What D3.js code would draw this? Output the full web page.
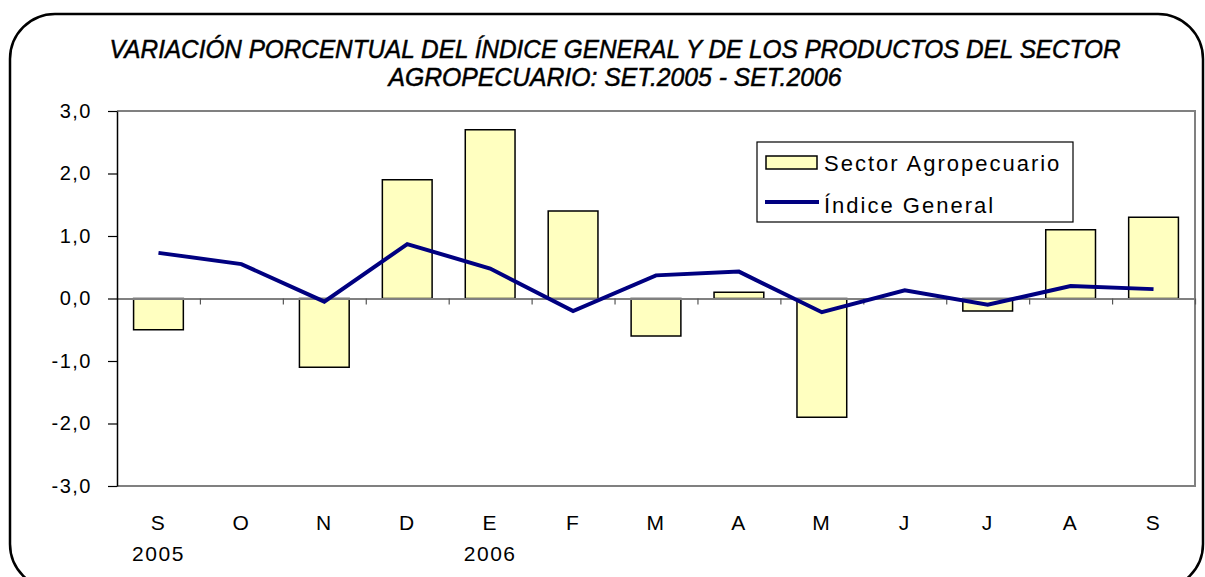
<!DOCTYPE html>
<html>
<head>
<meta charset="utf-8">
<script src="https://cdn.jsdelivr.net/npm/d3@7"></script>
<style>
  body { margin: 0; background: #fff; }
  text { font-family: "Liberation Sans", Arial, sans-serif; }
</style>
</head>
<body>
<script>
// months Sep 2005 - Sep 2006
var months = ["S", "O", "N", "D", "E", "F", "M", "A", "M", "J", "J", "A", "S"];
var years = ["2005", "", "", "", "2006", "", "", "", "", "", "", "", ""];
var agro = [-0.5, 0.0, -1.1, 1.9, 2.7, 1.4, -0.6, 0.1, -1.9, 0.0, -0.2, 1.1, 1.3];
var general = [0.73, 0.55, -0.05, 0.87, 0.48, -0.2, 0.37, 0.43, -0.22, 0.13, -0.1, 0.2, 0.15];
var yTicks = [-3, -2, -1, 0, 1, 2, 3];
var titleLines = [
  "VARIACIÓN PORCENTUAL DEL ÍNDICE GENERAL Y DE LOS PRODUCTOS DEL SECTOR",
  "AGROPECUARIO: SET.2005 - SET.2006"
];

var W = 1205, H = 577;
var plot = { left: 117, right: 1195, top: 111, bottom: 486 };

var svg = d3.select("body").append("svg")
  .attr("width", W)
  .attr("height", H);

// rounded chart area border
svg.append("rect")
  .attr("x", 10).attr("y", 14)
  .attr("width", 1193).attr("height", 575)
  .attr("rx", 45).attr("ry", 45)
  .attr("fill", "#fff")
  .attr("stroke", "#000")
  .attr("stroke-width", 2.5);

// title
svg.selectAll(".title")
  .data(titleLines)
  .enter()
  .append("text")
  .attr("class", "title")
  .attr("x", 615)
  .attr("y", function (d, i) { return 58 + i * 28; })
  .attr("text-anchor", "middle")
  .attr("textLength", function (d, i) { return i === 0 ? 1011 : 453; })
  .attr("lengthAdjust", "spacingAndGlyphs")
  .style("font-family", "'Liberation Sans Narrow', 'Arial Narrow', 'Liberation Sans', sans-serif")
  .style("font-style", "italic")
  .style("font-size", "25px")
  .attr("stroke", "#000")
  .attr("stroke-width", 0.5)
  .text(function (d) { return d; });

// scales
var x = d3.scaleBand()
  .domain(d3.range(months.length))
  .range([plot.left, plot.right])
  .paddingInner(0.4)
  .paddingOuter(0.2);

var xEdge = d3.scaleLinear()
  .domain([0, months.length])
  .range([plot.left, plot.right]);

var y = d3.scaleLinear()
  .domain([-3, 3])
  .range([plot.bottom, plot.top]);

var fmt = d3.formatLocale({ decimal: ",", thousands: ".", grouping: [3], currency: ["", ""], minus: "-" }).format(".1f");

// plot frame (top, right, bottom in gray)
svg.append("path")
  .attr("d", "M" + plot.left + "," + plot.top + "H" + plot.right + "V" + plot.bottom + "H" + plot.left)
  .attr("fill", "none")
  .attr("stroke", "#808080")
  .attr("stroke-width", 2);

// bars (zero values have no bar)
var barData = agro.map(function (v, i) { return { i: i, v: v }; })
  .filter(function (d) { return d.v !== 0; });

svg.selectAll(".bar")
  .data(barData)
  .enter()
  .append("rect")
  .attr("class", "bar")
  .attr("x", function (d) { return x(d.i); })
  .attr("y", function (d) { return y(Math.max(0, d.v)); })
  .attr("width", x.bandwidth())
  .attr("height", function (d) { return Math.abs(y(d.v) - y(0)); })
  .attr("fill", "#FFFFC0")
  .attr("stroke", "#000")
  .attr("stroke-width", 1.5);

// zero line with category ticks
var xAxis = svg.append("g")
  .attr("transform", "translate(0," + y(0) + ")")
  .call(d3.axisBottom(xEdge).tickValues(d3.range(1, months.length + 1)).tickFormat("").tickSize(6).tickSizeOuter(0));
xAxis.select(".domain").attr("stroke", "#808080").attr("stroke-width", 2);
xAxis.selectAll(".tick line").attr("stroke", "#555").attr("stroke-width", 1.2);

// y axis
var yAxis = svg.append("g")
  .attr("transform", "translate(" + plot.left + ",0)")
  .call(d3.axisLeft(y).tickValues(yTicks).tickFormat(fmt).tickSize(9).tickSizeOuter(0).tickPadding(16));
yAxis.select(".domain").attr("stroke", "#000").attr("stroke-width", 1.5);
yAxis.selectAll(".tick line").attr("stroke", "#000").attr("stroke-width", 1.2);
yAxis.selectAll(".tick text")
  .style("font-size", "20px")
  .style("letter-spacing", "1.5px")
  .attr("fill", "#000");

// line
var line = d3.line()
  .x(function (d, i) { return x(i) + x.bandwidth() / 2; })
  .y(function (d) { return y(d); });

svg.append("path")
  .datum(general)
  .attr("d", line)
  .attr("fill", "none")
  .attr("stroke", "#000080")
  .attr("stroke-width", 4)
  .attr("stroke-linejoin", "miter");

// month labels
svg.selectAll(".month")
  .data(months)
  .enter()
  .append("text")
  .attr("class", "month")
  .attr("x", function (d, i) { return x(i) + x.bandwidth() / 2; })
  .attr("y", 530)
  .attr("text-anchor", "middle")
  .style("font-size", "21px")
  .style("letter-spacing", "1.5px")
  .text(function (d) { return d; });

svg.selectAll(".year")
  .data(years)
  .enter()
  .append("text")
  .attr("class", "year")
  .attr("x", function (d, i) { return x(i) + x.bandwidth() / 2; })
  .attr("y", 561)
  .attr("text-anchor", "middle")
  .style("font-size", "21px")
  .style("letter-spacing", "1.5px")
  .text(function (d) { return d; });

// legend
var legend = svg.append("g");
legend.append("rect")
  .attr("x", 757).attr("y", 142)
  .attr("width", 316).attr("height", 80)
  .attr("fill", "#fff")
  .attr("stroke", "#000")
  .attr("stroke-width", 1.2);
legend.append("rect")
  .attr("x", 766).attr("y", 156)
  .attr("width", 51).attr("height", 13)
  .attr("fill", "#FFFFC0")
  .attr("stroke", "#000")
  .attr("stroke-width", 1.5);
legend.append("line")
  .attr("x1", 765).attr("x2", 819)
  .attr("y1", 202).attr("y2", 202)
  .attr("stroke", "#000080")
  .attr("stroke-width", 4);
legend.append("text")
  .attr("x", 824).attr("y", 171)
  .style("font-size", "22px")
  .style("letter-spacing", "2px")
  .text("Sector Agropecuario");
legend.append("text")
  .attr("x", 824).attr("y", 213)
  .style("font-size", "22px")
  .style("letter-spacing", "2px")
  .text("Índice General");
</script>
</body>
</html>
